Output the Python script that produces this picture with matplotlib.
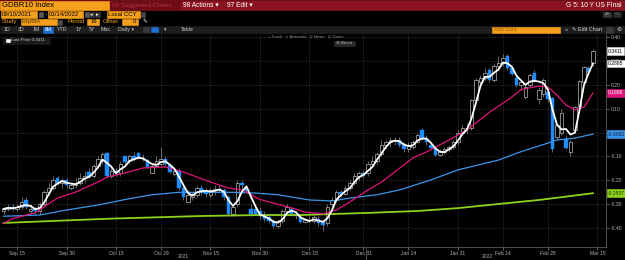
import matplotlib
matplotlib.use("Agg")
import matplotlib.pyplot as plt
from matplotlib.patches import Rectangle
import numpy as np
import pandas as pd

plt.rcParams["font.family"] = ["Liberation Sans", "DejaVu Sans"]

# trading days shown on the chart
dates = pd.bdate_range("2021-09-10", "2022-03-14")

opens = [-0.33, -0.32, -0.31, -0.32, -0.31, -0.28, -0.33, -0.32, -0.33, -0.30,
         -0.25, -0.23, -0.19, -0.21, -0.20, -0.23, -0.22, -0.21, -0.19, -0.165,
         -0.18, -0.14, -0.11, -0.085, -0.18, -0.16, -0.17, -0.10, -0.12, -0.10,
         -0.085, -0.105, -0.115, -0.17, -0.14, -0.13, -0.11, -0.135, -0.175, -0.16,
         -0.23, -0.29, -0.27, -0.26, -0.23, -0.245, -0.26, -0.24, -0.235, -0.24,
         -0.27, -0.34, -0.30, -0.21, -0.23, -0.32, -0.32, -0.33, -0.35, -0.355,
         -0.37, -0.39, -0.37, -0.33, -0.32, -0.34, -0.355, -0.375, -0.365, -0.37,
         -0.36, -0.375, -0.38, -0.30, -0.28, -0.25, -0.255, -0.23, -0.21, -0.18,
         -0.17, -0.17, -0.13, -0.12, -0.09, -0.05, -0.04, -0.035, -0.03, -0.05,
         -0.07, -0.06, -0.04, 0.01, -0.025, -0.05, -0.065, -0.095, -0.08, -0.07,
         -0.06, -0.04, 0.00, 0.02, 0.02, 0.135, 0.21, 0.23, 0.26, 0.22,
         0.28, 0.29, 0.32, 0.27, 0.23, 0.20, 0.15, 0.20, 0.25, 0.14,
         0.16, 0.17, 0.145, -0.02, 0.00, -0.025, -0.08, 0.01, 0.11, 0.21,
         0.27, 0.29]
highs = [-0.31, -0.30, -0.30, -0.30, -0.27, -0.27, -0.30, -0.31, -0.29, -0.24,
         -0.21, -0.18, -0.18, -0.19, -0.19, -0.21, -0.19, -0.17, -0.16, -0.15,
         -0.13, -0.10, -0.08, -0.08, -0.15, -0.15, -0.12, -0.10, -0.09, -0.08,
         -0.08, -0.09, -0.11, -0.13, -0.10, -0.06, -0.10, -0.13, -0.15, -0.15,
         -0.22, -0.24, -0.25, -0.22, -0.22, -0.23, -0.23, -0.22, -0.22, -0.23,
         -0.26, -0.30, -0.20, -0.20, -0.22, -0.30, -0.30, -0.31, -0.33, -0.34,
         -0.36, -0.36, -0.32, -0.30, -0.31, -0.33, -0.34, -0.36, -0.35, -0.34,
         -0.35, -0.37, -0.30, -0.27, -0.24, -0.24, -0.22, -0.20, -0.17, -0.16,
         -0.16, -0.12, -0.10, -0.08, -0.03, -0.03, -0.02, -0.02, -0.02, -0.04,
         -0.04, -0.03, 0.00, 0.02, -0.01, -0.04, -0.06, -0.07, -0.06, -0.05,
         -0.03, 0.01, 0.03, 0.04, 0.14, 0.23, 0.24, 0.27, 0.27, 0.29,
         0.32, 0.33, 0.33, 0.28, 0.24, 0.22, 0.20, 0.25, 0.26, 0.19,
         0.23, 0.18, 0.15, 0.04, 0.10, -0.01, -0.03, 0.11, 0.22, 0.28,
         0.28, 0.35]
lows = [-0.34, -0.33, -0.33, -0.33, -0.32, -0.32, -0.34, -0.34, -0.34, -0.31,
        -0.26, -0.24, -0.22, -0.23, -0.23, -0.24, -0.23, -0.22, -0.21, -0.19,
        -0.19, -0.15, -0.13, -0.19, -0.19, -0.18, -0.18, -0.13, -0.13, -0.12,
        -0.11, -0.12, -0.15, -0.17, -0.15, -0.14, -0.14, -0.17, -0.18, -0.24,
        -0.28, -0.29, -0.28, -0.27, -0.26, -0.27, -0.27, -0.26, -0.25, -0.28,
        -0.35, -0.35, -0.31, -0.24, -0.25, -0.35, -0.34, -0.36, -0.37, -0.38,
        -0.40, -0.40, -0.38, -0.34, -0.35, -0.36, -0.38, -0.38, -0.38, -0.38,
        -0.39, -0.41, -0.39, -0.31, -0.29, -0.27, -0.26, -0.24, -0.22, -0.20,
        -0.19, -0.18, -0.14, -0.13, -0.10, -0.07, -0.06, -0.05, -0.06, -0.08,
        -0.08, -0.07, -0.045, -0.03, -0.05, -0.07, -0.10, -0.10, -0.09, -0.08,
        -0.07, -0.05, -0.01, 0.00, 0.01, 0.13, 0.19, 0.22, 0.21, 0.21,
        0.26, 0.28, 0.26, 0.24, 0.19, 0.18, 0.14, 0.19, 0.21, 0.12,
        0.15, 0.13, -0.08, -0.03, -0.01, -0.07, -0.10, 0.00, 0.10, 0.20,
        0.24, 0.28]
closes = [-0.32, -0.31, -0.32, -0.31, -0.29, -0.31, -0.32, -0.33, -0.30, -0.25,
          -0.23, -0.20, -0.21, -0.20, -0.22, -0.22, -0.21, -0.19, -0.18, -0.185,
          -0.14, -0.11, -0.09, -0.18, -0.16, -0.17, -0.13, -0.125, -0.10, -0.11,
          -0.105, -0.11, -0.145, -0.14, -0.12, -0.11, -0.13, -0.165, -0.16, -0.23,
          -0.27, -0.26, -0.26, -0.23, -0.245, -0.255, -0.24, -0.235, -0.24, -0.27,
          -0.34, -0.31, -0.21, -0.22, -0.245, -0.34, -0.34, -0.35, -0.36, -0.37,
          -0.39, -0.37, -0.33, -0.31, -0.34, -0.35, -0.375, -0.365, -0.37, -0.355,
          -0.38, -0.385, -0.31, -0.28, -0.25, -0.255, -0.23, -0.21, -0.18, -0.17,
          -0.18, -0.13, -0.12, -0.09, -0.05, -0.04, -0.03, -0.03, -0.05, -0.07,
          -0.05, -0.04, -0.01, -0.025, -0.04, -0.065, -0.095, -0.08, -0.07, -0.06,
          -0.04, 0.00, 0.02, 0.02, 0.135, 0.22, 0.23, 0.25, 0.22, 0.28,
          0.29, 0.31, 0.27, 0.245, 0.20, 0.21, 0.19, 0.24, 0.22, 0.18,
          0.22, 0.14, -0.07, 0.03, 0.08, -0.065, -0.04, 0.105, 0.215, 0.2753,
          0.2521, 0.3411]

# moving averages
ma20_dates = ["2021-09-10", "2021-09-14", "2021-09-21", "2021-09-28", "2021-10-04",
              "2021-10-11", "2021-10-13", "2021-10-19", "2021-10-25", "2021-11-01",
              "2021-11-05", "2021-11-10", "2021-11-15", "2021-11-19", "2021-11-24",
              "2021-11-30", "2021-12-06", "2021-12-09", "2021-12-14", "2021-12-20",
              "2021-12-23", "2021-12-28", "2022-01-03", "2022-01-06", "2022-01-17",
              "2022-01-20", "2022-01-27", "2022-02-02", "2022-02-09", "2022-02-16",
              "2022-02-18", "2022-02-24", "2022-02-28", "2022-03-02", "2022-03-04",
              "2022-03-08", "2022-03-10", "2022-03-11", "2022-03-14"]
ma20_vals = [-0.38, -0.36, -0.336, -0.274, -0.249, -0.207, -0.186, -0.169, -0.148, -0.144,
             -0.165, -0.186, -0.207, -0.232, -0.24, -0.28, -0.30, -0.315, -0.332, -0.34,
             -0.324, -0.29, -0.24, -0.207, -0.106, -0.081, -0.031, 0.011, 0.085, 0.149,
             0.18, 0.195, 0.19, 0.157, 0.115, 0.095, 0.107, 0.136, 0.1658]

ma100_dates = ["2021-09-10", "2021-09-22", "2021-09-30", "2021-10-11", "2021-10-19",
               "2021-10-27", "2021-11-04", "2021-11-12", "2021-11-22", "2021-11-29",
               "2021-12-06", "2021-12-15", "2021-12-22", "2021-12-28", "2022-01-05",
               "2022-01-12", "2022-01-21", "2022-01-31", "2022-02-11", "2022-02-18",
               "2022-02-25", "2022-03-02", "2022-03-08", "2022-03-14"]
ma100_vals = [-0.35, -0.345, -0.324, -0.303, -0.28, -0.26, -0.25, -0.25, -0.25, -0.253,
              -0.26, -0.282, -0.286, -0.274, -0.26, -0.24, -0.198, -0.156, -0.115, -0.08,
              -0.05, -0.031, -0.023, -0.0062]

ma200_dates = ["2021-09-10", "2021-10-14", "2021-11-11", "2021-11-30", "2021-12-13",
               "2022-01-03", "2022-01-18", "2022-01-31", "2022-02-15", "2022-02-24",
               "2022-03-14"]
ma200_vals = [-0.378, -0.36, -0.349, -0.345, -0.345, -0.336, -0.328, -0.316, -0.295, -0.282,
              -0.2537]

y_ticks = [-0.40, -0.30, -0.20, -0.10, 0.00, 0.10, 0.20, 0.30, 0.40]
tick_dates = ["2021-09-15", "2021-09-30", "2021-10-15", "2021-10-29", "2021-11-15",
              "2021-11-30", "2021-12-15", "2021-12-31", "2022-01-14", "2022-01-31",
              "2022-02-14", "2022-02-28", "2022-03-15"]
tick_labels = ["Sep 15", "Sep 30", "Oct 15", "Oct 29", "Nov 15", "Nov 30", "Dec 15",
               "Dec 31", "Jan 14", "Jan 31", "Feb 14", "Feb 28", "Mar 15"]

ORANGE = "#f5a01a"
RED = "#8a1320"
BLUE_C = "#1c8cff"
GRAY_TXT = "#b4b4b4"


def pos(day_list):
    return np.searchsorted(dates, pd.to_datetime(day_list))


fig = plt.figure(figsize=(6.25, 2.6), dpi=100, facecolor="black")

# main price axes
ax = fig.add_axes([0, 13 / 260, 606 / 625, 213 / 260], facecolor="black")
ax.set_xlim(-0.78, 133.9)
ax.set_ylim(-0.4787, 0.4125)

x = np.arange(len(dates))
o = np.array(opens)
c = np.array(closes)
up = c >= o
ax.vlines(x, lows, highs, color="#9a9a9a", lw=0.45, zorder=2)
ax.bar(x[up], (c - o)[up], bottom=o[up], width=0.7, facecolor="black",
       edgecolor="#cfcfcf", lw=0.45, zorder=3)
ax.bar(x[~up], (c - o)[~up], bottom=o[~up], width=0.7, facecolor=BLUE_C,
       edgecolor=BLUE_C, lw=0.3, zorder=3)

fast = pd.Series(closes).rolling(3, min_periods=1).mean()
ax.plot(pos(ma200_dates), ma200_vals, color="#8ed31b", lw=1.3, zorder=4)
ax.plot(pos(ma100_dates), ma100_vals, color="#3a96e8", lw=0.9, zorder=4)
ax.plot(pos(ma20_dates), ma20_vals, color="#e0157c", lw=0.9, zorder=4)
ax.plot(x, fast, color="white", lw=1.3, zorder=5)

# grid / axes; the 0.00 label sits under the blue value box, as on the terminal
xt = pos(tick_dates)
ax.set_xticks(xt)
ax.set_xticklabels(tick_labels)
ax.set_yticks(y_ticks)
ax.set_yticklabels(["" if v == 0 else f"{v:.2f}" for v in y_ticks])
ax.yaxis.tick_right()
ax.tick_params(axis="both", colors="#8a8a8a", labelcolor=GRAY_TXT, labelsize=3.6,
               length=2, width=0.5, pad=1.2)
ax.grid(True, color="#3c3c3c", lw=0.5, ls=(0, (2, 2)))
for side in ["left", "top"]:
    ax.spines[side].set_visible(False)
for side in ["right", "bottom"]:
    ax.spines[side].set_color("#5a5a5a")
    ax.spines[side].set_linewidth(0.6)

# value boxes at the right edge
tags = [
    (closes[-1], "white", "black"),
    (fast.iloc[-1], "white", "black"),
    (ma20_vals[-1], "#e0157c", "white"),
    (ma100_vals[-1], "#3a96e8", "#0a1a40"),
    (ma200_vals[-1], "#8ed31b", "#1a2a00"),
]
for val, bg, fg in tags:
    ax.annotate(f"{val:.4f}", xy=(1.0, val), xycoords=("axes fraction", "data"),
                xytext=(1.5, 0), textcoords="offset points", ha="left", va="center",
                fontsize=3.6, color=fg, zorder=10, annotation_clip=False,
                bbox=dict(boxstyle="square,pad=0.25", fc=bg,
                          ec="#dddddd" if bg == "white" else bg, lw=0.4))

# overlay for terminal header and furniture, in pixel coordinates
ui = fig.add_axes([0, 0, 1, 1])
ui.set_xlim(0, 625)
ui.set_ylim(260, 0)
ui.axis("off")
ui.set_zorder(5)


def box(x0, y0, x1, y1, color, ec=None):
    ui.add_patch(Rectangle((x0, y0), x1 - x0, y1 - y0, fc=color, ec=ec or color, lw=0.4))


def label(xp, yp, s, color="black", size=4.2, ha="left", **kw):
    ui.text(xp, yp, s, color=color, fontsize=size, ha=ha, va="center", **kw)


# row 1
box(0, 0, 625, 10, RED)
box(0, 1, 109, 9.5, ORANGE)
label(2, 5.3, "GDBR10 Index", size=5.6)
box(110, 1, 180, 9.5, "#6e0d16")
label(112, 5.3, "98 Suggested Charts", color="#b3303c", size=4.6)
label(183, 5.3, "98 Actions \u25be", color="white", size=4.8)
label(227, 5.3, "97 Edit \u25be", color="white", size=4.8)
label(622, 5.3, "G 5: 10 Y US FInal", color="white", size=4.8, ha="right")

# row 2
box(1, 11, 37, 17.5, ORANGE)
label(2, 14.3, "09/10/2021", size=4.3)
box(38.5, 11.5, 43, 17, "#5a5a5a")
label(45, 14.3, "-", color="white", size=4.3)
box(48, 11, 83, 17.5, ORANGE)
label(49, 14.3, "03/14/2022", size=4.3)
box(84.5, 11.5, 88.5, 17, "#5a5a5a")
box(89.5, 11.5, 94, 17, "#3a3a3a")
box(95, 11.5, 99.5, 17, "#3a3a3a")
label(91.7, 14.3, "\u25c2", color="white", size=3.5, ha="center")
label(97.2, 14.3, "\u25b8", color="white", size=3.5, ha="center")
box(107, 11, 140, 17.5, ORANGE)
label(108, 14.3, "Local CCY", size=4.3)
box(141, 11.5, 145, 17, "#4a4a4a")
box(603, 11.5, 611, 17, "#3a3a3a")
box(613, 11.5, 621, 17, "#2a2a2a")
label(607, 14.3, "\u21b6", color="#cccccc", size=3.5, ha="center")
label(617, 14.3, "\u21b7", color="#777777", size=3.5, ha="center")

# row 3
label(2, 21.8, "Study", color=ORANGE, size=4.3)
box(21, 19, 57, 25, ORANGE)
label(22, 21.8, "ExpMA", color="#5a3a00", size=4.3)
box(58, 19.5, 62, 24.5, "#4a4a4a")
label(67, 21.8, "Period", color=ORANGE, size=4.3)
box(87, 19, 99, 25, ORANGE)
label(97.5, 21.8, "16", size=4.3, ha="right")
label(103, 21.8, "Offset", color=ORANGE, size=4.3)
box(122, 19, 138, 25, ORANGE)
label(136.5, 21.8, "0", size=4.3, ha="right")
label(145, 21.8, "\u270e", color="white", size=4.0, ha="center")

# row 4 toolbar
box(0, 26, 625, 33, "#1e1e1e")
for txt, xp in [("1D", 7), ("3D", 21), ("1M", 36), ("YTD", 62), ("1Y", 79),
                ("5Y", 92), ("Max", 106), ("Daily \u25be", 126), ("Table", 187)]:
    label(xp, 29.6, txt, color="#c8c8c8", size=3.8, ha="center")
box(43, 26.5, 53, 32.5, "#1f6ed4")
label(48, 29.6, "6M", color="white", size=3.8, ha="center")
box(143, 27, 149, 32, "#3a3a3a")
box(151, 27, 158, 32, "#1f6ed4")
label(165, 29.6, "\u25be", color="#c8c8c8", size=3.5, ha="center")
box(492, 26.5, 560, 32.5, ORANGE)
label(494, 29.6, "Add Data", color="#9a5a00", size=3.9)
label(566, 29.6, "\u00ab", color="#c8c8c8", size=4.0, ha="center")
label(572, 29.6, "\u270e Edit Chart", color="#d8d8d8", size=3.9)
box(606, 27, 613, 32.5, "#3a3a3a")
label(619, 29.6, "\u2699", color="#d8d8d8", size=4.2, ha="center")

# chart overlay controls
label(268, 37.3, "+ Track   \u2713 Annotate   \u2261 News   Q Zoom", color="#8c8c8c", size=3.1)
box(334, 40.5, 355, 46, "#2a2a2a")
label(344.5, 43.3, "\u2699 Reset", color="#bbbbbb", size=3.1, ha="center")
box(3, 37, 50, 44, "#1b1b1b")
box(6, 38.6, 9.5, 42.2, "white")
label(11, 40.4, f"Last Price {closes[-1]:.4f}", color="#cfcfcf", size=3.2)

# year labels below the date ticks
split = np.searchsorted(dates, pd.Timestamp("2022-01-01"))
to_px = lambda i: 3.5 + 4.5 * i
sep_x = to_px(split - 0.5)
ui.plot([sep_x, sep_x], [248, 260], color="#5a5a5a", lw=0.6)
label(to_px((split - 1) / 2), 256.8, "2021", color=GRAY_TXT, size=3.6, ha="center")
label(to_px((split + 133.9) / 2), 256.8, "2022", color=GRAY_TXT, size=3.6, ha="center")

fig.savefig("out.png", dpi=100, facecolor="black")
